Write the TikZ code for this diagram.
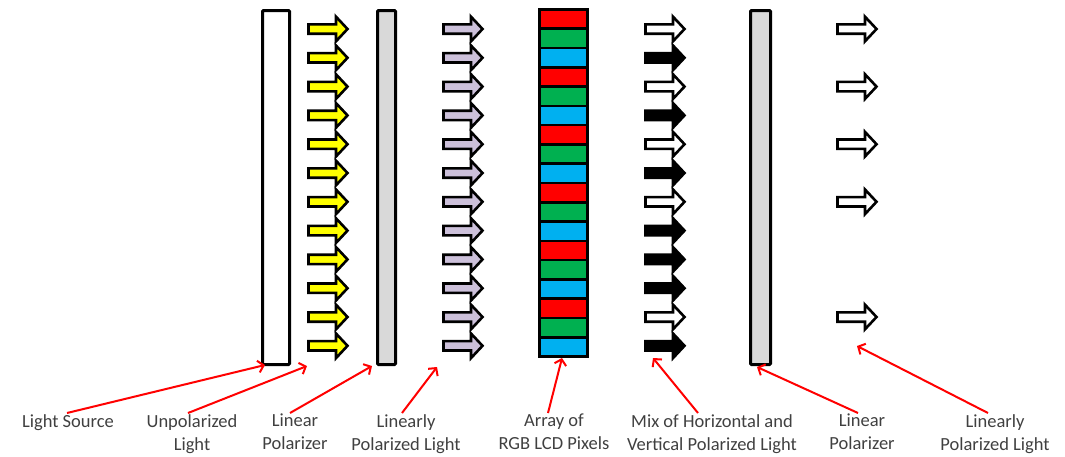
\documentclass[tikz,border=0pt]{standalone}
\usepackage{fontspec}
\setmainfont{Carlito}
\usetikzlibrary{arrows.meta}
\definecolor{lcdred}{HTML}{FF0000}
\definecolor{lcdgreen}{HTML}{00B050}
\definecolor{lcdblue}{HTML}{00B0F0}
\definecolor{lav}{HTML}{CCC0DA}
\definecolor{yel}{HTML}{FFFF00}
\definecolor{panel}{HTML}{D9D9D9}
\definecolor{txt}{HTML}{404040}
\newcommand\blockarrow[3]{%
  \draw[blk,#3] (#1+1.5,#2-4.7) -- (#1+29,#2-4.7) -- (#1+29,#2-12.3) -- (#1+40.5,#2)
    -- (#1+29,#2+12.3) -- (#1+29,#2+4.7) -- (#1+1.5,#2+4.7) -- cycle;}
\begin{document}
\begin{tikzpicture}[x=1pt,y=-1pt,
  blk/.style={draw=black,line width=2.6pt,line join=miter},
  plate/.style={draw=black,line width=3pt,rounded corners=1pt},
  cell/.style={draw=black,line width=2.6pt},
  lbl/.style={font=\fontsize{18.5}{23}\selectfont,text=txt,align=center,anchor=north,inner sep=0pt},
  redarr/.style={draw=red,line width=2pt,-{Straight Barb[length=5.5pt,width=12pt]}}]
\useasboundingbox (0,0) rectangle (1065,456);
% plates
\draw[plate,fill=white] (262.5,10.5) rectangle (289.5,364.5);
\draw[plate,fill=panel] (377.5,10.5) rectangle (395.5,364.5);
\draw[plate,fill=panel] (750.5,10.5) rectangle (770.5,364.5);
% LCD pixels
\foreach \i in {0,...,17}{
  \pgfmathtruncatemacro\m{mod(\i,3)}
  \ifcase\m \def\cc{lcdred}\or \def\cc{lcdgreen}\or \def\cc{lcdblue}\fi
  \draw[cell,fill=\cc] (539.5,{9.5+\i*19.28}) rectangle (587.5,{9.5+(\i+1)*19.28});
}
% arrows
\foreach \i in {0,...,11}{
  \pgfmathsetmacro\yc{29+28.8*\i}
  \blockarrow{307}{\yc}{fill=yel}
  \blockarrow{442}{\yc}{fill=lav}
}
\foreach \i/\c in {0/white,1/black,2/white,3/black,4/white,5/black,6/white,7/black,8/black,9/black,10/white,11/black}{
  \pgfmathsetmacro\yc{29+28.8*\i}
  \blockarrow{644}{\yc}{fill=\c}
}
\foreach \i in {0,2,4,6,10}{
  \pgfmathsetmacro\yc{29+28.8*\i}
  \blockarrow{836}{\yc}{fill=white}
}
% labels
\node[lbl] (l1) at (68,414) {Light Source};
\node[lbl] (l2) at (192,414) {Unpolarized\\Light};
\node[lbl] (l3) at (295,414) {Linear\\Polarizer};
\node[lbl] (l4) at (406,414) {Linearly\\Polarized Light};
\node[lbl] (l5) at (554,414) {Array of\\RGB LCD Pixels};
\node[lbl] (l6) at (712,414) {Mix of Horizontal and\\Vertical Polarized Light};
\node[lbl] (l7) at (862,414) {Linear\\Polarizer};
\node[lbl] (l8) at (995,414) {Linearly\\Polarized Light};
% targets
\coordinate (t1) at (265,365);
\coordinate (t2) at (307,366);
\coordinate (t3) at (372,366);
\coordinate (t4) at (437,367);
\coordinate (t5) at (562,358);
\coordinate (t6) at (653,358);
\coordinate (t7) at (757,367);
\coordinate (t8) at (857,346);
\draw[redarr] ([xshift=-1pt,yshift=1pt]l1.north) -- (t1);
\draw[redarr] ([xshift=-4pt,yshift=1pt]l2.north) -- (t2);
\draw[redarr] ([xshift=-5pt,yshift=1pt]l3.north) -- (t3);
\draw[redarr] ([xshift=-4pt,yshift=1pt]l4.north) -- (t4);
\draw[redarr] ([xshift=-6pt,yshift=1pt]l5.north) -- (t5);
\draw[redarr] ([xshift=-14pt,yshift=1pt]l6.north) -- (t6);
\draw[redarr] ([xshift=-4pt,yshift=1pt]l7.north) -- (t7);
\draw[redarr] ([xshift=-7pt,yshift=1pt]l8.north) -- (t8);
\end{tikzpicture}
\end{document}
